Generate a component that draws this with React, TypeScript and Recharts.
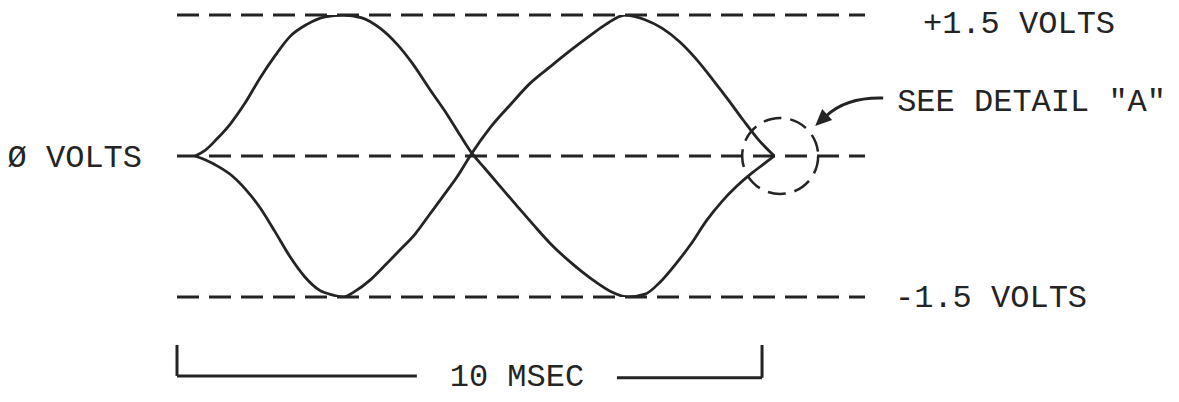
import React from 'react';
import { LineChart, Line, XAxis, YAxis, ReferenceLine, ReferenceDot } from 'recharts';

// ---- data (time in ms, level in volts) ----
const risingFirstTime = [0.31, 0.48, 0.68, 0.91, 1.16, 1.42, 1.68, 1.93, 2.22, 2.53, 2.84, 3.16, 3.47, 3.76, 4.03, 4.32, 4.62, 4.84, 5.04, 5.26, 5.52, 5.81, 6.09, 6.38, 6.67, 6.92, 7.18, 7.44, 7.71, 8.0, 8.26, 8.51, 8.77, 9.06, 9.32, 9.57, 9.83, 10.02, 10.21];
const risingFirstVolts = [0, 0.06, 0.18, 0.34, 0.56, 0.83, 1.07, 1.27, 1.4, 1.48, 1.5, 1.47, 1.36, 1.19, 0.98, 0.71, 0.44, 0.22, 0.03, -0.13, -0.32, -0.53, -0.73, -0.93, -1.1, -1.23, -1.35, -1.45, -1.5, -1.47, -1.34, -1.16, -0.95, -0.68, -0.48, -0.32, -0.18, -0.09, 0];

const fallingFirstTime = [0.31, 0.48, 0.7, 0.94, 1.18, 1.42, 1.68, 1.93, 2.19, 2.44, 2.67, 2.84, 3.04, 3.3, 3.56, 3.81, 4.07, 4.32, 4.58, 4.8, 5.04, 5.35, 5.69, 6.03, 6.38, 6.72, 7.06, 7.33, 7.66, 8.0, 8.29, 8.6, 8.89, 9.16, 9.42, 9.68, 9.93, 10.21];
const fallingFirstVolts = [0, -0.04, -0.11, -0.21, -0.36, -0.55, -0.81, -1.07, -1.29, -1.43, -1.48, -1.5, -1.44, -1.32, -1.16, -1.0, -0.83, -0.62, -0.4, -0.21, 0.03, 0.3, 0.54, 0.77, 0.95, 1.12, 1.28, 1.4, 1.5, 1.45, 1.36, 1.21, 1.02, 0.81, 0.6, 0.38, 0.18, 0];

const levelValues = [1.5, 0, -1.5];
const levelLabels = ['+1.5 VOLTS', '\u00D8 VOLTS', '-1.5 VOLTS'];

const spanStart = 0;
const spanEnd = 10;
const spanLabel = '10 MSEC';
const spanGap = [4.1, 7.52];
const spanLevels = [-2.01, -2.34, -2.36];

const detailTime = 10.31;
const detailLevel = 0;
const detailLabel = 'SEE DETAIL "A"';

const timeDomain = [0, 11.76];
const voltDomain = [-1.5, 1.5];

const risingData = risingFirstTime.map((t, i) => ({ t, v: risingFirstVolts[i] }));
const fallingData = fallingFirstTime.map((t, i) => ({ t, v: fallingFirstVolts[i] }));

// ---- styles ----
const INK = '#242424';
const FONT = '"Liberation Mono", "Courier New", monospace';
const FS = 32;

const vb = (p: any) => p?.viewBox ?? { x: 0, y: 0, width: 0, height: 0 };

const rightLabel = (text: string, dx: number, dy: number) => (p: any) => {
  const b = vb(p);
  return (
    <text x={b.x + b.width + dx} y={b.y + dy} fill={INK} fontFamily={FONT} fontSize={FS} textAnchor="start">
      {text}
    </text>
  );
};

const leftLabel = (text: string, dx: number, dy: number) => (p: any) => {
  const b = vb(p);
  return (
    <text x={b.x - dx} y={b.y + dy} fill={INK} fontFamily={FONT} fontSize={FS} textAnchor="end">
      {text}
    </text>
  );
};

const detailCallout = (p: any) => {
  const b = vb(p);
  const cx = b.x + b.width / 2;
  const cy = b.y + b.height / 2;
  return (
    <g>
      <path
        d={`M ${cx + 103} ${cy - 58} Q ${cx + 66} ${cy - 59} ${cx + 46} ${cy - 40}`}
        fill="none"
        stroke={INK}
        strokeWidth={3}
      />
      <polygon
        points={`${cx + 35},${cy - 30} ${cx + 52},${cy - 36} ${cx + 42},${cy - 47}`}
        fill={INK}
      />
      <text x={cx + 117} y={cy - 45} fill={INK} fontFamily={FONT} fontSize={FS} textAnchor="start">
        {detailLabel}
      </text>
    </g>
  );
};

const spanText = (p: any) => {
  const b = vb(p);
  return (
    <text x={b.x + b.width / 2} y={b.y + b.height / 2 + 10} fill={INK} fontFamily={FONT} fontSize={FS} textAnchor="middle">
      {spanLabel}
    </text>
  );
};

export default function App() {
  return (
    <div style={{ position: 'absolute', left: 0, top: 0, width: 1179, height: 402, background: '#fff' }}>
      <LineChart width={1179} height={402} margin={{ top: 15, right: 314, bottom: 105, left: 177 }}>
        <XAxis type="number" dataKey="t" domain={timeDomain} allowDataOverflow hide />
        <YAxis type="number" dataKey="v" domain={voltDomain} allowDataOverflow hide />

        <ReferenceLine
          y={levelValues[0]}
          stroke={INK}
          strokeWidth={3}
          strokeDasharray="22 10"
          label={rightLabel(levelLabels[0], 58, 18)}
        />
        <ReferenceLine
          y={levelValues[1]}
          stroke={INK}
          strokeWidth={3}
          strokeDasharray="22 10"
          label={leftLabel(levelLabels[1], 35, 11)}
        />
        <ReferenceLine
          y={levelValues[2]}
          stroke={INK}
          strokeWidth={3}
          strokeDasharray="22 10"
          label={rightLabel(levelLabels[2], 30, 10)}
        />

        {/* 10 ms bracket */}
        <ReferenceLine
          segment={[{ x: spanStart, y: spanLevels[0] }, { x: spanStart, y: spanLevels[1] }]}
          stroke={INK}
          strokeWidth={3}
          ifOverflow="visible"
        />
        <ReferenceLine
          segment={[{ x: spanStart, y: spanLevels[1] }, { x: spanGap[0], y: spanLevels[1] }]}
          stroke={INK}
          strokeWidth={3}
          ifOverflow="visible"
        />
        <ReferenceLine
          segment={[{ x: spanGap[1], y: spanLevels[2] }, { x: spanEnd, y: spanLevels[2] }]}
          stroke={INK}
          strokeWidth={3}
          ifOverflow="visible"
        />
        <ReferenceLine
          segment={[{ x: spanEnd, y: spanLevels[0] }, { x: spanEnd, y: spanLevels[2] }]}
          stroke={INK}
          strokeWidth={3}
          ifOverflow="visible"
        />
        <ReferenceDot
          x={(spanGap[0] + spanGap[1]) / 2}
          y={spanLevels[1]}
          r={1}
          fill="none"
          stroke="none"
          ifOverflow="visible"
          label={spanText}
        />

        <Line
          data={risingData}
          dataKey="v"
          type="monotone"
          stroke={INK}
          strokeWidth={2.8}
          dot={false}
          activeDot={false}
          isAnimationActive={false}
        />
        <Line
          data={fallingData}
          dataKey="v"
          type="monotone"
          stroke={INK}
          strokeWidth={2.8}
          dot={false}
          activeDot={false}
          isAnimationActive={false}
        />

        <ReferenceDot
          x={detailTime}
          y={detailLevel}
          r={38}
          fill="none"
          stroke={INK}
          strokeWidth={2.5}
          strokeDasharray="18 9"
          ifOverflow="visible"
          label={detailCallout}
        />
      </LineChart>
    </div>
  );
}
